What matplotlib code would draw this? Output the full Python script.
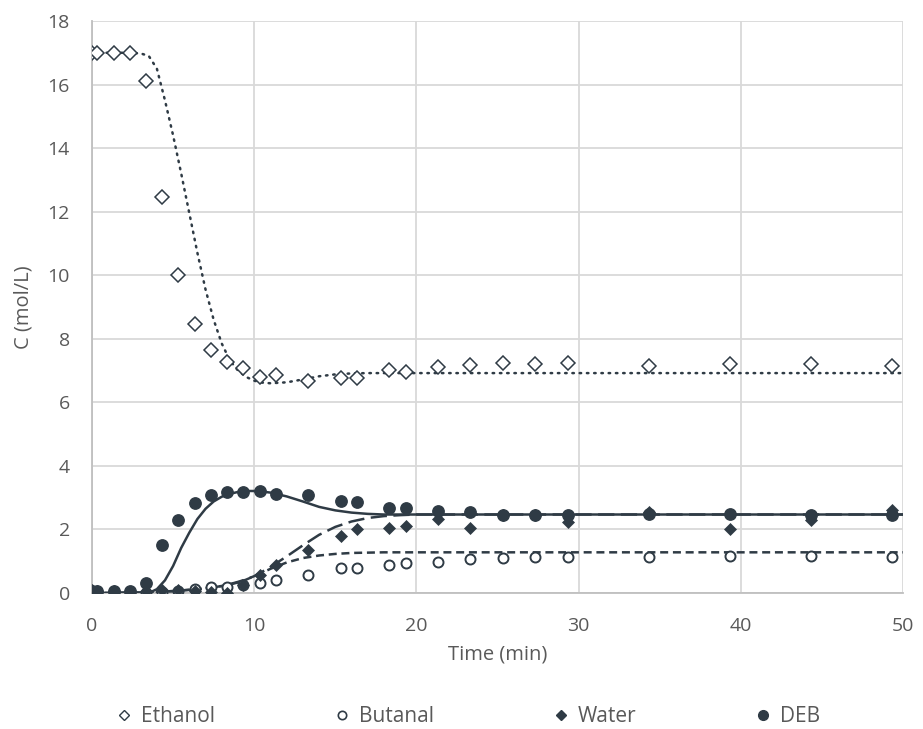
import matplotlib
matplotlib.use("Agg")
import matplotlib.pyplot as plt
from matplotlib.lines import Line2D

# ---------------- data ----------------
time = [0, 0.33, 1.33, 2.33, 3.33, 4.33, 5.33, 6.33, 7.33, 8.33, 9.33, 10.33, 11.33,
        13.33, 15.33, 16.33, 18.33, 19.33, 21.33, 23.33, 25.33, 27.33, 29.33,
        34.33, 39.33, 44.33, 49.33]

ethanol = [17.0, 17.0, 16.98, 16.98, 16.1, 12.45, 10.02, 8.46, 7.66, 7.26, 7.07, 6.79, 6.85,
           6.68, 6.76, 6.78, 7.01, 6.97, 7.12, 7.18, 7.25, 7.22, 7.25,
           7.13, 7.2, 7.22, 7.13]
butanal = [0.0, 0.0, 0.0, 0.0, 0.0, 0.02, 0.06, 0.12, 0.18, 0.2, 0.26, 0.31, 0.41,
           0.57, 0.78, 0.79, 0.89, 0.94, 0.99, 1.06, 1.09, 1.12, 1.12,
           1.12, 1.15, 1.15, 1.12]
water = [0.08, 0.05, 0.05, 0.03, 0.05, 0.1, 0.08, 0.05, 0.02, 0.0, 0.25, 0.57, 0.89,
         1.35, 1.79, 2.0, 2.03, 2.11, 2.34, 2.05, 2.45, 2.45, 2.24,
         2.55, 2.01, 2.29, 2.6]
deb = [0.05, 0.05, 0.05, 0.05, 0.3, 1.5, 2.3, 2.84, 3.08, 3.19, 3.19, 3.21, 3.13,
       3.08, 2.89, 2.85, 2.69, 2.67, 2.57, 2.55, 2.47, 2.46, 2.47,
       2.5, 2.48, 2.45, 2.47]

# model (fitted) curves
model_time = [0, 1, 2, 3, 3.5, 4, 4.5, 5, 5.5, 6, 6.5, 7, 7.5, 8, 8.5, 9, 9.5, 10, 10.5,
              11, 12, 13, 14, 15, 16, 17, 18, 19, 20, 22, 25, 30, 40, 50]
ethanol_fit = [17.0, 17.0, 17.0, 16.98, 16.9, 16.5, 15.5, 14.4, 13.2, 11.95, 10.7, 9.55, 8.6,
               7.85, 7.32, 7.0, 6.8, 6.68, 6.62, 6.6, 6.63, 6.72, 6.82, 6.88, 6.91, 6.92,
               6.92, 6.92, 6.92, 6.92, 6.92, 6.92, 6.92, 6.92]
butanal_fit = [0.0, 0.0, 0.01, 0.02, 0.03, 0.04, 0.05, 0.06, 0.08, 0.1, 0.12, 0.15, 0.18,
               0.22, 0.27, 0.33, 0.42, 0.53, 0.64, 0.76, 0.96, 1.1, 1.18, 1.23, 1.26, 1.27,
               1.28, 1.28, 1.28, 1.28, 1.28, 1.28, 1.28, 1.28]
water_fit = [0.0, 0.0, 0.01, 0.02, 0.03, 0.04, 0.05, 0.06, 0.08, 0.1, 0.12, 0.15, 0.18,
             0.22, 0.28, 0.35, 0.43, 0.53, 0.67, 0.82, 1.15, 1.5, 1.83, 2.08, 2.25, 2.36,
             2.42, 2.45, 2.47, 2.47, 2.47, 2.47, 2.47, 2.47]
deb_fit = [0.0, 0.0, 0.0, 0.0, 0.0, 0.12, 0.4, 0.85, 1.42, 1.9, 2.33, 2.65, 2.88,
           3.03, 3.12, 3.18, 3.21, 3.21, 3.19, 3.16, 3.04, 2.88, 2.71, 2.6, 2.53, 2.49,
           2.47, 2.47, 2.47, 2.47, 2.47, 2.47, 2.47, 2.47]

x_ticks = [0, 10, 20, 30, 40, 50]
y_ticks = [0, 2, 4, 6, 8, 10, 12, 14, 16, 18]
labels = ["Ethanol", "Butanal", "Water", "DEB"]

# ---------------- style ----------------
plt.rcParams['font.family'] = ['Open Sans', 'DejaVu Sans']
dark = '#2F3B45'
txt = '#595959'
grid = '#D9D9D9'

fig = plt.figure(figsize=(9.23, 7.29), dpi=100)
ax = fig.add_axes([92 / 923, 1 - 593 / 729, (903 - 92) / 923, (593 - 21) / 729])

lw = 1.8
ax.plot(model_time, ethanol_fit, color=dark, lw=lw, linestyle=(0, (0.6, 2.3)),
        dash_capstyle='round', zorder=3)
ax.plot(model_time, butanal_fit, color=dark, lw=lw, linestyle=(0, (3.2, 1.9)), zorder=3)
ax.plot(model_time, water_fit, color=dark, lw=lw, linestyle=(0, (6.5, 2.6)), zorder=3)
ax.plot(model_time, deb_fit, color=dark, lw=lw, linestyle='-', zorder=3)

ax.plot(time, ethanol, linestyle='none', marker='D', markersize=6.8, markerfacecolor='white',
        markeredgecolor=dark, markeredgewidth=1.1, zorder=4)
ax.plot(time, butanal, linestyle='none', marker='o', markersize=7.2, markerfacecolor='white',
        markeredgecolor=dark, markeredgewidth=1.4, zorder=4)
ax.plot(time, water, linestyle='none', marker='D', markersize=6.3, color=dark,
        markeredgewidth=0.5, zorder=5)
ax.plot(time, deb, linestyle='none', marker='o', markersize=8.2, color=dark, zorder=5)

ax.set_xlim(0, 50)
ax.set_ylim(0, 18)
ax.set_xticks(x_ticks)
ax.set_yticks(y_ticks)
ax.grid(True, color=grid, lw=1.3, zorder=0)
ax.set_axisbelow(True)
for s in ['top', 'right']:
    ax.spines[s].set_visible(False)
for s in ['left', 'bottom']:
    ax.spines[s].set_color('#BFBFBF')
    ax.spines[s].set_linewidth(1.3)
ax.tick_params(length=0, labelsize=14, labelcolor=txt)
ax.tick_params(axis='x', pad=17)
ax.tick_params(axis='y', pad=16)
ax.set_xlabel("Time (min)", fontsize=14.5, color=txt, labelpad=7)
ax.set_ylabel("C (mol/L)", fontsize=14.5, color=txt, labelpad=10)

handles = [
    Line2D([], [], linestyle='none', marker='D', markersize=5, markerfacecolor='white',
           markeredgecolor=dark, markeredgewidth=1.0),
    Line2D([], [], linestyle='none', marker='o', markersize=6, markerfacecolor='white',
           markeredgecolor=dark, markeredgewidth=1.2),
    Line2D([], [], linestyle='none', marker='D', markersize=5, color=dark),
    Line2D([], [], linestyle='none', marker='o', markersize=7, color=dark),
]
leg = fig.legend(handles, labels, ncol=4, loc='center', bbox_to_anchor=(0.507, 1 - 717 / 729),
                 frameon=False, fontsize=15, handlelength=0.8, handletextpad=0.4,
                 columnspacing=5.7, labelcolor=txt)

fig.savefig("out.png", dpi=100)
